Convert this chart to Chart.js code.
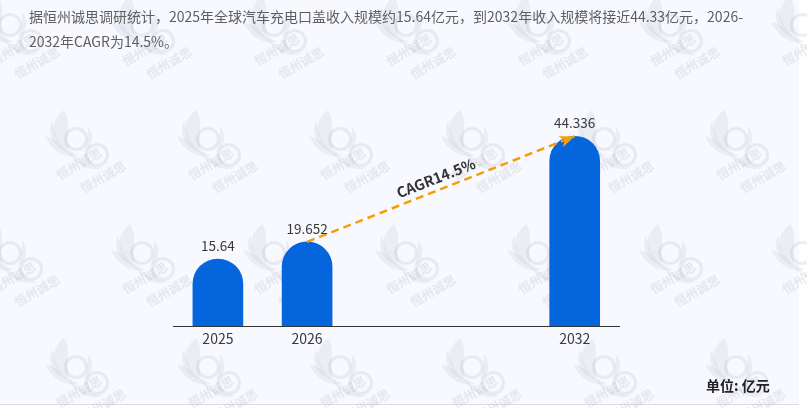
<!DOCTYPE html>
<html lang="zh">
<head>
<meta charset="utf-8">
<title>全球汽车充电口盖收入规模</title>
<script src="https://cdn.jsdelivr.net/npm/chart.js@4/dist/chart.umd.min.js"></script>
<style>
  html, body { margin: 0; padding: 0; background: #fff; }
  body { width: 807px; height: 408px; position: relative; overflow: hidden; font-family: "Noto Sans CJK SC", sans-serif; }
  #panel { position: absolute; left: 0; top: 0; width: 799px; height: 404px; background: #f8f9ff; border-bottom: 1px solid #dcdde2; box-sizing: content-box; }
  #intro { position: absolute; left: 29px; top: 4px; width: 725px; font-size: 14px; line-height: 25px; color: #5f5f5f; }
  #unit { position: absolute; left: 706px; top: 375px; font-size: 14px; line-height: 20px; font-weight: 700; color: #222; white-space: pre; }
  #chart { position: absolute; left: 0; top: 0; }
</style>
</head>
<body>
<div id="panel"></div>
<canvas id="chart" width="807" height="408"></canvas>
<div id="intro">据恒州诚思调研统计，2025年全球汽车充电口盖收入规模约15.64亿元，到2032年收入规模将接近44.33亿元，2026-2032年CAGR为14.5%。</div>
<div id="unit">单位: 亿元</div>
<script>
const categories = ['2025', '2026', '', '', '2032'];
const revenue = [15.64, 19.652, null, null, 44.336];
const valueLabels = ['15.64', '19.652', '', '', '44.336'];
const cagrLine = [null, 19.652, null, null, 44.336];
const cagrText = 'CAGR14.5%';
const watermarkText = '恒州诚思';

const BAR_COLOR = '#0565dc';
const ARROW_COLOR = '#f59e0b';
const FONT = '"Noto Sans CJK SC", sans-serif';

// 水印：一个 logo 加两行斜字
function drawMark(ctx, x, y) {
  ctx.save();
  ctx.translate(x, y);
  ctx.fillStyle = 'rgba(170,172,185,0.16)';
  ctx.strokeStyle = 'rgba(170,172,185,0.2)';

  ctx.beginPath();
  ctx.moveTo(-12, -29);
  ctx.bezierCurveTo(-28, -16, -26, 2, -7, 10);
  ctx.bezierCurveTo(-12, -5, -3, -14, -12, -29);
  ctx.fill();

  ctx.beginPath();
  ctx.moveTo(-24, -18);
  ctx.bezierCurveTo(-30, -4, -22, 8, -8, 13);
  ctx.bezierCurveTo(-18, 4, -22, -6, -24, -18);
  ctx.fill();

  ctx.beginPath();
  ctx.moveTo(-31, -3);
  ctx.bezierCurveTo(-24, 12, -12, 19, 3, 17);
  ctx.bezierCurveTo(-10, 11, -18, 0, -31, -3);
  ctx.fill();

  ctx.beginPath();
  ctx.moveTo(12, -13);
  ctx.bezierCurveTo(19, -4, 17, 7, 8, 13);
  ctx.bezierCurveTo(12, 3, 12, -4, 12, -13);
  ctx.fill();

  ctx.beginPath();
  ctx.moveTo(-9, 12);
  ctx.bezierCurveTo(0, 26, 14, 33, 27, 29);
  ctx.bezierCurveTo(12, 27, 2, 20, -9, 12);
  ctx.fill();

  ctx.lineWidth = 3;
  ctx.beginPath();
  ctx.arc(0, 0, 10.5, 0, Math.PI * 2);
  ctx.stroke();
  ctx.beginPath();
  ctx.arc(21, 16, 10.5, 0, Math.PI * 2);
  ctx.stroke();

  ctx.fillStyle = 'rgba(170,172,185,0.24)';
  ctx.font = '700 12.5px ' + FONT;
  ctx.textAlign = 'center';
  ctx.textBaseline = 'middle';
  [[3, 25], [27, 38]].forEach(function(p) {
    ctx.save();
    ctx.translate(p[0], p[1]);
    ctx.rotate(-Math.PI / 6);
    ctx.fillText(watermarkText, 0, 0);
    ctx.restore();
  });
  ctx.restore();
}

const watermarkPlugin = {
  id: 'watermark',
  beforeDraw(chart) {
    const ctx = chart.ctx;
    for (let row = 0; row < 4; row++) {
      const y = 25 + row * 114;
      const startX = row % 2 === 0 ? 10 : 76;
      for (let x = startX; x < 880; x += 132) {
        drawMark(ctx, x, y);
      }
    }
  }
};

// 柱顶数值、CAGR 文字和箭头
const annotationPlugin = {
  id: 'annotations',
  afterDatasetsDraw(chart) {
    const ctx = chart.ctx;
    const bars = chart.getDatasetMeta(0).data;

    ctx.save();
    ctx.fillStyle = '#3a3a3a';
    ctx.font = '13.5px ' + FONT;
    ctx.textAlign = 'center';
    ctx.textBaseline = 'middle';
    bars.forEach(function(bar, i) {
      if (revenue[i] !== null) {
        ctx.fillText(valueLabels[i], bar.x, bar.y - 13);
      }
    });
    ctx.restore();

    const xScale = chart.scales.x;
    const yScale = chart.scales.y;
    const x1 = xScale.getPixelForValue(1);
    const y1 = yScale.getPixelForValue(cagrLine[1]);
    const x2 = xScale.getPixelForValue(4);
    const y2 = yScale.getPixelForValue(cagrLine[4]);
    const angle = Math.atan2(y2 - y1, x2 - x1);

    ctx.save();
    ctx.translate(x2, y2);
    ctx.rotate(angle);
    ctx.fillStyle = ARROW_COLOR;
    ctx.beginPath();
    ctx.moveTo(0, 0);
    ctx.lineTo(-15, -6);
    ctx.lineTo(-11, 0);
    ctx.lineTo(-15, 6);
    ctx.closePath();
    ctx.fill();
    ctx.restore();

    ctx.save();
    ctx.translate((x1 + x2) / 2 - 5, (y1 + y2) / 2 - 11);
    ctx.rotate(angle);
    ctx.fillStyle = '#333';
    ctx.font = '700 14.5px ' + FONT;
    ctx.textAlign = 'center';
    ctx.textBaseline = 'middle';
    ctx.fillText(cagrText, 0, 0);
    ctx.restore();
  }
};

new Chart(document.getElementById('chart').getContext('2d'), {
  data: {
    labels: categories,
    datasets: [
      {
        type: 'bar',
        data: revenue,
        backgroundColor: BAR_COLOR,
        barThickness: 50,
        borderSkipped: false,
        borderRadius: { topLeft: 25, topRight: 25, bottomLeft: 0, bottomRight: 0 },
        order: 2
      },
      {
        type: 'line',
        data: cagrLine,
        spanGaps: true,
        borderColor: ARROW_COLOR,
        borderWidth: 2.5,
        borderDash: [8, 5],
        pointRadius: 0,
        tension: 0,
        order: 1
      }
    ]
  },
  options: {
    responsive: false,
    animation: false,
    events: [],
    layout: { padding: { left: 173.3, right: 187.7, top: 112, bottom: 0 } },
    plugins: {
      legend: { display: false },
      tooltip: { enabled: false }
    },
    scales: {
      x: {
        afterFit(scale) { scale.height = 82; },
        grid: { display: false, drawTicks: false },
        border: { color: '#333', width: 1 },
        ticks: {
          autoSkip: false,
          maxRotation: 0,
          padding: 4,
          color: '#3a3a3a',
          font: { family: FONT, size: 14 }
        }
      },
      y: { display: false, min: 0, max: 50 }
    }
  },
  plugins: [watermarkPlugin, annotationPlugin]
});
</script>
</body>
</html>
